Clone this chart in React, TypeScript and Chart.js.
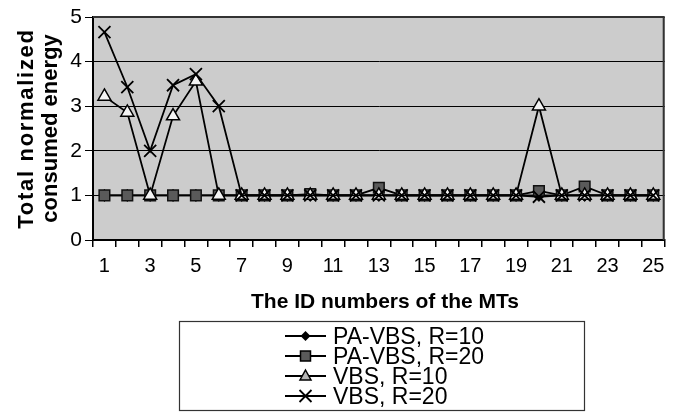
import React, { useEffect, useRef } from 'react';
import { Chart, registerables } from 'chart.js';

Chart.register(...registerables);

const categories = ['1', '2', '3', '4', '5', '6', '7', '8', '9', '10', '11', '12', '13', '14', '15', '16', '17', '18', '19', '20', '21', '22', '23', '24', '25'];
const paVbsR10 = [1, 1, 1, 1, 1, 1, 1, 1, 1, 1, 1, 1, 1, 1, 1, 1, 1, 1, 1, 1, 1, 1, 1, 1, 1];
const paVbsR20 = [1, 1, 1, 1, 1, 1, 1, 1, 1, 1.03, 1, 1, 1.17, 1, 1, 1, 1, 1, 1, 1.1, 1, 1.2, 1, 1, 1];
const vbsR10 = [3.22, 2.86, 1, 2.78, 3.56, 1, 1, 1, 1, 1, 1, 1, 1, 1, 1, 1, 1, 1, 1, 3.0, 1, 1, 1, 1, 1];
const vbsR20 = [4.66, 3.43, 2.0, 3.47, 3.72, 3.0, 1, 1, 1, 1, 1, 1, 1, 1, 1, 1, 1, 1, 1, 0.97, 1, 1, 1, 1, 1];
const yTicks = [0, 1, 2, 3, 4, 5];
const seriesLabels = ['PA-VBS, R=10', 'PA-VBS, R=20', 'VBS, R=10', 'VBS, R=20'];
const xTitle = 'The ID numbers of the MTs';
const yTitle = ['Total normalized', 'consumed energy'];

const FONT = '"Liberation Sans", Arial, Helvetica, sans-serif';

function drawMarker(ctx: CanvasRenderingContext2D, kind: number, x: number, y: number) {
  ctx.save();
  ctx.lineWidth = 1.5;
  ctx.strokeStyle = '#000';
  ctx.beginPath();
  if (kind === 0) {
    ctx.fillStyle = '#000';
    ctx.moveTo(x, y - 5);
    ctx.lineTo(x + 5, y);
    ctx.lineTo(x, y + 5);
    ctx.lineTo(x - 5, y);
    ctx.closePath();
    ctx.fill();
  } else if (kind === 1) {
    ctx.fillStyle = '#5a5a5a';
    ctx.rect(x - 5, y - 5, 10, 10);
    ctx.fill();
    ctx.stroke();
  } else if (kind === 2) {
    ctx.fillStyle = '#b4b4b4';
    ctx.moveTo(x, y - 6);
    ctx.lineTo(x + 5.5, y + 4);
    ctx.lineTo(x - 5.5, y + 4);
    ctx.closePath();
    ctx.fill();
    ctx.stroke();
  } else {
    ctx.lineWidth = 1.8;
    ctx.moveTo(x - 6, y - 6);
    ctx.lineTo(x + 6, y + 6);
    ctx.moveTo(x + 6, y - 6);
    ctx.lineTo(x - 6, y + 6);
    ctx.stroke();
  }
  ctx.restore();
}

const decorPlugin = {
  id: 'decor',
  beforeDraw(chart: any) {
    const { ctx, chartArea } = chart;
    ctx.save();
    ctx.fillStyle = '#cccccc';
    ctx.fillRect(chartArea.left, chartArea.top, chartArea.right - chartArea.left, chartArea.bottom - chartArea.top);
    ctx.restore();
  },
  afterDraw(chart: any) {
    const { ctx, chartArea } = chart;
    ctx.save();
    // top and right frame
    ctx.strokeStyle = '#333';
    ctx.lineWidth = 2;
    ctx.beginPath();
    ctx.moveTo(chartArea.left, chartArea.top);
    ctx.lineTo(chartArea.right - 1, chartArea.top);
    ctx.lineTo(chartArea.right - 1, chartArea.bottom);
    ctx.stroke();

    // y title
    ctx.fillStyle = '#000';
    ctx.font = `bold 22px ${FONT}`;
    ctx.textAlign = 'center';
    ctx.textBaseline = 'alphabetic';
    const cy = (chartArea.top + chartArea.bottom) / 2;
    const baselines = [33, 57];
    const spacing = ['1.7px', '0px'];
    yTitle.forEach((t, i) => {
      ctx.save();
      (ctx as any).letterSpacing = spacing[i];
      ctx.translate(baselines[i], cy);
      ctx.rotate(-Math.PI / 2);
      ctx.fillText(t, 0, 0);
      ctx.restore();
    });

    // x title
    ctx.font = `bold 21px ${FONT}`;
    ctx.fillText(xTitle, 385, 308);

    // legend
    ctx.strokeStyle = '#333';
    ctx.lineWidth = 1.2;
    ctx.strokeRect(179.5, 321.5, 405, 89);
    ctx.font = `23px ${FONT}`;
    ctx.textAlign = 'left';
    seriesLabels.forEach((label, i) => {
      const by = 344 + i * 20;
      const my = by - 8;
      ctx.strokeStyle = '#000';
      ctx.lineWidth = 1.8;
      ctx.beginPath();
      ctx.moveTo(285, my);
      ctx.lineTo(326, my);
      ctx.stroke();
      drawMarker(ctx, i, 305.5, my);
      ctx.fillStyle = '#000';
      ctx.fillText(label, 333, by);
    });
    ctx.restore();
  },
};

export default function App() {
  const ref = useRef<HTMLCanvasElement>(null);
  useEffect(() => {
    document.body.style.margin = '0';
    const canvas = ref.current!;
    const chart = new Chart(canvas, {
      type: 'line',
      data: {
        labels: categories,
        datasets: [
          {
            label: seriesLabels[0],
            data: paVbsR10,
            borderColor: '#000',
            borderWidth: 1.8,
            pointStyle: 'rectRot',
            pointRadius: 6,
            pointBackgroundColor: '#000',
            pointBorderColor: '#000',
            pointBorderWidth: 1,
            order: 4,
          },
          {
            label: seriesLabels[1],
            data: paVbsR20,
            borderColor: '#000',
            borderWidth: 1.8,
            pointStyle: 'rect',
            pointRadius: 7.5,
            pointBackgroundColor: '#5a5a5a',
            pointBorderColor: '#111',
            pointBorderWidth: 1.5,
            order: 3,
          },
          {
            label: seriesLabels[2],
            data: vbsR10,
            borderColor: '#000',
            borderWidth: 1.8,
            pointStyle: 'triangle',
            pointRadius: 7.5,
            pointBackgroundColor: '#f4f4f4',
            pointBorderColor: '#000',
            pointBorderWidth: 1.5,
            order: 2,
          },
          {
            label: seriesLabels[3],
            data: vbsR20,
            borderColor: '#000',
            borderWidth: 1.8,
            pointStyle: 'crossRot',
            pointRadius: 8.5,
            pointBackgroundColor: '#000',
            pointBorderColor: '#000',
            pointBorderWidth: 1.8,
            order: 1,
          },
        ],
      },
      options: {
        responsive: false,
        animation: false,
        events: [],
        layout: { padding: { top: 17, right: 1, left: 0, bottom: 0 } },
        plugins: {
          legend: { display: false },
          tooltip: { enabled: false },
          title: { display: false },
        },
        elements: { line: { tension: 0 } },
        scales: {
          x: {
            type: 'category',
            offset: true,
            grid: {
              offset: true,
              drawOnChartArea: false,
              drawTicks: true,
              tickLength: 7,
              color: '#000',
              lineWidth: 1.5,
            },
            border: { color: '#000', width: 2 },
            ticks: {
              autoSkip: false,
              maxRotation: 0,
              minRotation: 0,
              color: '#000',
              padding: 7,
              font: { family: FONT, size: 20 },
              callback: (_v: any, i: number) => (i % 2 === 0 ? categories[i] : ''),
            },
            afterFit: (s: any) => {
              s.height = 172;
            },
          },
          y: {
            min: 0,
            max: 5,
            afterBuildTicks: (s: any) => {
              s.ticks = yTicks.map((v) => ({ value: v }));
            },
            grid: { color: '#000', lineWidth: 1, tickLength: 8, drawTicks: true },
            border: { color: '#000', width: 2 },
            ticks: {
              color: '#000',
              padding: 3,
              font: { family: FONT, size: 21 },
            },
            afterFit: (s: any) => {
              s.width = 93;
            },
          },
        },
      },
      plugins: [decorPlugin],
    } as any);
    return () => chart.destroy();
  }, []);
  return (
    <div style={{ width: 675, height: 412, position: 'relative' }}>
      <canvas ref={ref} width={675} height={412} style={{ display: 'block', width: 675, height: 412 }} />
    </div>
  );
}
